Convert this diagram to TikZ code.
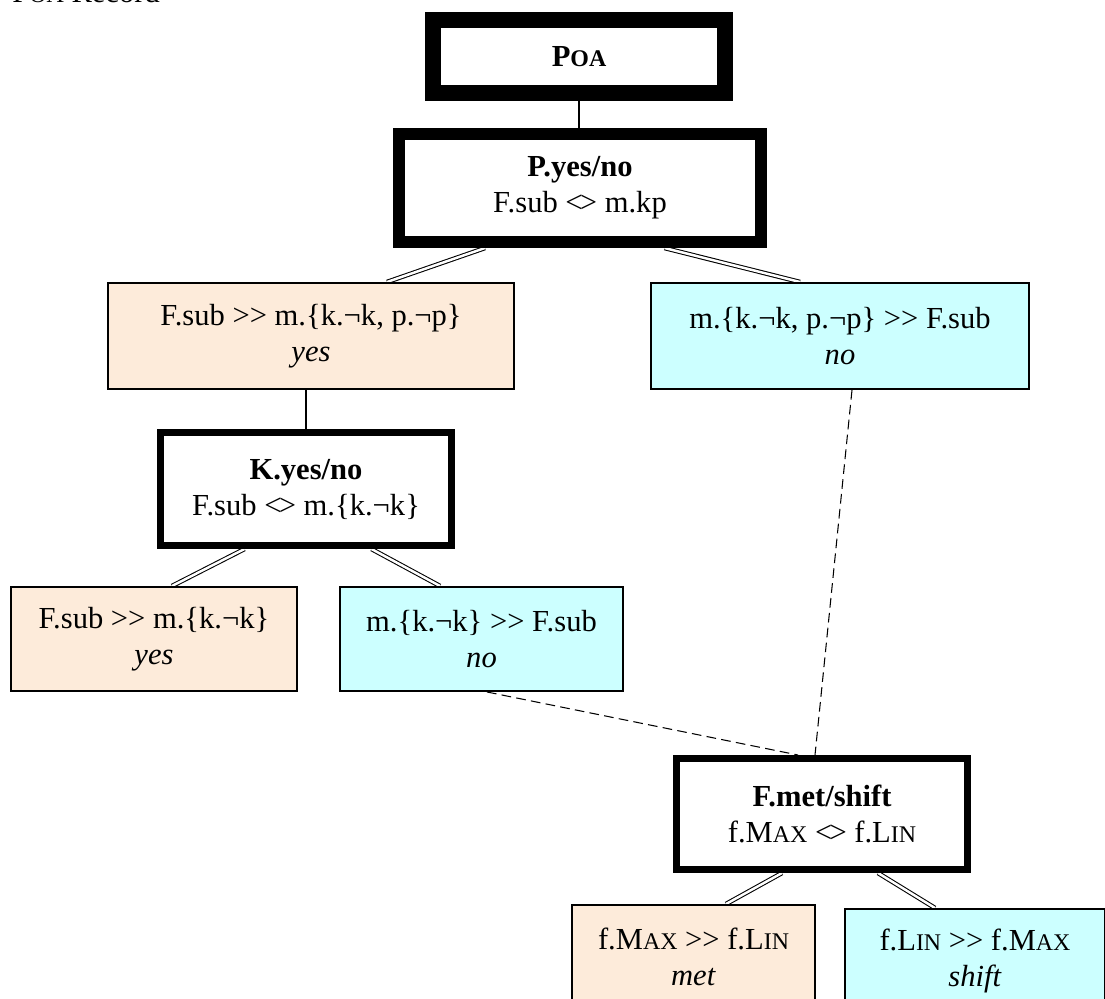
\documentclass[tikz,border=0pt]{standalone}
\usepackage{fontspec}
\setmainfont{Liberation Serif}
\usetikzlibrary{calc, backgrounds}

\definecolor{yespeach}{RGB}{253,235,218}
\definecolor{nocyan}{RGB}{204,255,255}

% fake small caps
\newcommand{\sml}[1]{{\fontsize{13.6}{16}\selectfont #1}}
\newcommand{\dia}{<\kern-.09em>}
\newcommand{\grt}{>{}>}

\tikzset{
    every node/.style={font=\fontsize{17.4}{20.5}\selectfont, align=center, inner sep=0pt},
    hdr/.style={draw, fill=white},
    yesbox/.style={draw, line width=0.04cm, fill=yespeach, minimum height=2.08cm},
    nobox/.style={draw, line width=0.04cm, fill=nocyan, minimum height=2.08cm},
    dbl/.style={double, double distance=1.4pt, line width=0.6pt},
    dsh/.style={dash pattern=on 5.5pt off 3pt, line width=0.6pt}
}

\begin{document}
\begin{tikzpicture}[x=0.02cm, y=-0.02cm]

    \useasboundingbox (0,0) rectangle (1105,999);

    \node (title) [anchor=base west] at (12,3) {P\sml{OA} Record};

    \node (poa) [hdr, line width=0.32cm, minimum width=5.84cm, minimum height=1.46cm] at (579,57) {\textbf{P\sml{OA}}};
    \node (pyn) [hdr, line width=0.24cm, minimum width=7.26cm, minimum height=2.16cm] at (580,188) {\textbf{P.yes/no}\\F.sub \dia{} m.kp};

    \node (pyes) [yesbox, minimum width=8.12cm, minimum height=2.12cm] at (311,336) {F.sub \grt{} m.\{k.¬k, p.¬p\}\\\textit{yes}};
    \node (pno) [nobox, minimum width=7.56cm, minimum height=2.12cm] at (840,336) {m.\{k.¬k, p.¬p\} \grt{} F.sub\\\textit{no}};

    \node (kyn) [hdr, line width=0.14cm, minimum width=5.84cm, minimum height=2.26cm] at (306,489) {\textbf{K.yes/no}\\F.sub \dia{} m.\{k.¬k\}};

    \node (kyes) [yesbox, minimum width=5.72cm] at (154,639) {F.sub \grt{} m.\{k.¬k\}\\\textit{yes}};
    \node (kno) [nobox, minimum width=5.66cm] at (481.5,639) {m.\{k.¬k\} \grt{} F.sub\\\textit{no}};

    \node (fms) [hdr, line width=0.14cm, minimum width=5.82cm, minimum height=2.22cm] at (822,814) {\textbf{F.met/shift}\\f.M\sml{AX} \dia{} f.L\sml{IN}};

    \node (fmet) [yesbox, minimum width=4.86cm] at (693.5,957) {f.M\sml{AX} \grt{} f.L\sml{IN}\\\textit{met}};
    \node (fshift) [nobox, minimum width=5.2cm] at (975,961) {f.L\sml{IN} \grt{} f.M\sml{AX}\\\textit{shift}};

    \begin{scope}[on background layer]
        \draw [line width=0.6pt] (poa.south) -- (poa.south |- pyn.north);
        \draw [dbl] ([xshift=-1.9cm]pyn.south) -- ([xshift=1.52cm]pyes.north);
        \draw [dbl] ([xshift=1.69cm]pyn.south) -- ([xshift=-0.8cm]pno.north);
        \draw [line width=0.6pt] (pyes.south -| kyn.north) -- (kyn.north);
        \draw [dbl] ([xshift=-1.23cm]kyn.south) -- ([xshift=0.36cm]kyes.north);
        \draw [dbl] ([xshift=1.31cm]kyn.south) -- ([xshift=-0.83cm]kno.north);
        \draw [dsh] ([xshift=0.11cm]kno.south) -- ([xshift=-0.48cm]fms.north);
        \draw [dsh] ([xshift=0.24cm]pno.south) -- ([xshift=-0.14cm]fms.north);
        \draw [dbl] ([xshift=-0.8cm]fms.south) -- ([xshift=0.65cm]fmet.north);
        \draw [dbl] ([xshift=1.12cm]fms.south) -- ([xshift=-0.8cm]fshift.north);
    \end{scope}

\end{tikzpicture}
\end{document}
